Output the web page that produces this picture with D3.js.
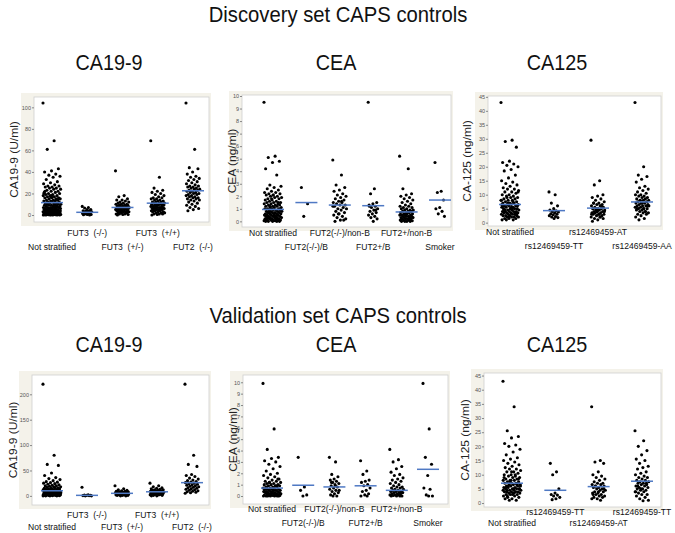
<!DOCTYPE html>
<html><head><meta charset="utf-8">
<script src="https://cdn.jsdelivr.net/npm/d3@7"></script>
<style>body{margin:0;background:#fff}svg{display:block}text{white-space:pre}</style></head>
<body><svg id="c" width="675" height="533"></svg>
<script>
// ---------------- DATA ----------------
const titles = ["Discovery set CAPS controls", "Validation set CAPS controls"];
const markers = ["CA19-9", "CEA", "CA125"];
const yLabels = ["CA19-9 (U/ml)", "CEA (ng/ml)", "CA-125 (ng/ml)"];

const catsCA199 = ["Not stratified", "FUT3  (-/-)", "FUT3  (+/-)", "FUT3  (+/+)", "FUT2  (-/-)"];
const catsCEA = ["Not stratified", "FUT2(-/-)/B", "FUT2(-/-)/non-B", "FUT2+/B", "FUT2+/non-B", "Smoker"];
const catsCA125Disc = ["Not stratified", "rs12469459-TT", "rs12469459-AT", "rs12469459-AA"];
const catsCA125Val = ["Not stratified", "rs12469459-TT", "rs12469459-AT", "rs12469459-TT"];

const ticksCA199Disc = [0, 20, 40, 60, 80, 100];
const ticksCA199Val = [0, 50, 100, 150, 200];
const ticksCEA = [0, 1, 2, 3, 4, 5, 6, 7, 8, 9, 10];
const ticksCA125 = [0, 5, 10, 15, 20, 25, 30, 35, 40, 45];

// Discovery CA19-9
const discCA199 = [
  [104,69,61,43,41,40,38,37,36,35,33,31,30,29,28,27,27,26,26,25,25,24,24,23,22,22,21,21,20,20,19,19,18,18,18,17,17,16,16,16,15,15,15,14,14,14,13,13,13,12,12,12,11,11,11,10,10,10,10,9,9,9,9,8,8,8,8,7,7,7,7,7,6,6,6,6,6,5,5,5,5,5,5,4,4,4,4,4,4,3,3,3,3,3,3,3,2,2,2,2,2,2,2,1,1,1,1,1,1,1,0.5,0.5,0.5,0.5,0.3,0.3,0.2,0.2,0.1,0.1,0,0,0,0,9,12,15,18,22,8,6,4,3,11,14,17,20,2,1,0.5,7,5],
  [8,7,6.5,5,5,4,4,3.5,3,3,2.5,2,2,1.5,1,1,0.5,0.5,0.3,0],
  [41,18,17,15,14,14,13,12,12,11,11,10,10,10,9,9,9,8,8,8,8,7,7,7,7,7,6,6,6,6,6,5,5,5,5,5,4,4,4,4,3,3,3,3,2,2,2,1,1,1,0.5,0.5,0],
  [69,35,25,23,22,21,20,19,18,17,16,16,15,15,14,14,13,13,12,12,12,11,11,11,10,10,10,10,9,9,9,8,8,8,8,7,7,7,7,6,6,6,6,5,5,5,5,4,4,4,3,3,3,2,2,2,1,1,1,0.5,0],
  [104,61,44,43,40,38,36,35,34,33,32,31,30,29,28,27,27,26,26,25,25,24,24,23,23,22,22,21,21,20,20,19,19,18,18,17,17,16,16,15,15,14,14,13,12,11,10,9,8,7,6,5,4]
];
const discCA199Means = [11.5, 2.5, 7, 11, 22.5];

// Discovery CEA
const discCEA = [
  [9.5,5.2,5.1,4.8,4.7,4.2,3.7,2.9,2.8,2.7,2.6,2.5,2.4,2.3,2.3,2.2,2.2,2.1,2.1,2.0,2.0,1.9,1.9,1.8,1.8,1.7,1.7,1.6,1.6,1.5,1.5,1.5,1.4,1.4,1.4,1.3,1.3,1.3,1.2,1.2,1.2,1.1,1.1,1.1,1.0,1.0,1.0,1.0,0.9,0.9,0.9,0.9,0.8,0.8,0.8,0.8,0.7,0.7,0.7,0.7,0.6,0.6,0.6,0.6,0.5,0.5,0.5,0.5,0.5,0.4,0.4,0.4,0.4,0.4,0.3,0.3,0.3,0.3,0.3,0.2,0.2,0.2,0.2,0.2,0.1,0.1,0.1,0.1,0.1,0.05,0.05,0,0,0,0,0,1.2,0.9,0.6,0.3,1.5,1.8,0.1,0.4,0.7,1.0,2.1,0.2],
  [2.7,1.4,0.4],
  [4.9,3.7,2.9,2.7,2.5,2.4,2.2,2.1,2.0,1.9,1.8,1.7,1.6,1.5,1.5,1.4,1.3,1.3,1.2,1.1,1.0,1.0,0.9,0.8,0.7,0.6,0.5,0.4,0.3,0.2,0.1,0.0,0.1,0.6,1.2,1.6],
  [9.5,2.6,2.2,1.5,1.4,1.3,1.2,1.1,1.0,0.9,0.8,0.7,0.6,0.5,0.4,0.3,0.2,0.0,1.2,0.9],
  [5.2,4.2,2.6,2.2,2.1,2.0,1.9,1.8,1.7,1.6,1.5,1.4,1.3,1.2,1.2,1.1,1.1,1.0,1.0,0.9,0.9,0.9,0.8,0.8,0.8,0.7,0.7,0.7,0.6,0.6,0.6,0.5,0.5,0.5,0.5,0.4,0.4,0.4,0.4,0.3,0.3,0.3,0.3,0.2,0.2,0.2,0.2,0.1,0.1,0.1,0.05,0,0,0,0],
  [4.7,2.4,2.3,1.7,1.1,1.0,0.8,0.6,0.4]
];
const discCEAMeans = [0.95, 1.5, 1.3, 1.25, 0.75, 1.7];

// Discovery CA125
const discCA125 = [
  [43,29.5,29,27,22,21.5,21,20.5,20,19,18.5,17,16,15,14.5,14,13.5,13,12.5,12,12,11.5,11,11,10.5,10,10,9.5,9.5,9,9,8.5,8.5,8,8,8,7.5,7.5,7,7,7,6.5,6.5,6.5,6,6,6,5.5,5.5,5.5,5,5,5,5,4.5,4.5,4.5,4.5,4,4,4,4,3.5,3.5,3.5,3.5,3,3,3,3,2.5,2.5,2.5,2.5,2,2,2,2,1.5,1.5,1.5,1,1,1,6,5,4,3,7,8,5,4,3,2.5,6,7,9,11,5.5,4.5,3.5,2,6.5,7.5],
  [11,10,7,6,5,4.5,4.2,4,3.8,3.5,3.2,3,2.8,2.5,2.2,2,1.8,1.5],
  [29.5,15,13.5,10,9.5,9,8.5,8,7.5,7,7,6.5,6.5,6,6,5.5,5.5,5,5,5,4.5,4.5,4.5,4,4,4,3.5,3.5,3.5,3,3,3,2.5,2.5,2,2,1.5,1.5,1,0.5,6,5,4,3,7,5.5,4,3,2],
  [43,20,17,16.5,15.5,14.5,13,12.5,12,11.5,11,10.5,10,10,9.5,9.5,9,9,8.5,8.5,8,8,8,7.5,7.5,7,7,7,6.5,6.5,6,6,6,5.5,5.5,5,5,5,4.5,4.5,4,4,3.5,3.5,3,3,2.5,2,1.5,1,6,7,5,4,8,6,5]
];
const discCA125Means = [6.5, 4.3, 5.2, 7.4];

// Validation CA19-9
const valCA199 = [
  [220,80,62,60,45,40,36,34,32,30,28,27,26,25,24,23,22,21,20,20,19,18,18,17,16,16,15,15,14,14,13,13,12,12,12,11,11,11,10,10,10,9,9,9,9,8,8,8,8,7,7,7,7,6,6,6,6,6,5,5,5,5,5,4,4,4,4,4,3,3,3,3,3,3,2,2,2,2,2,1,1,1,1,1,0.5,0.5,0,0,0,0,6,8,10,12,4,3,2,5,7,9],
  [17,2,1.5,1,1,0.5,0.5,0,0],
  [20,14,12,11,10,9,9,8,8,7,7,7,6,6,6,5,5,5,5,4,4,4,4,3,3,3,2,2,2,1,1,1,0,0],
  [25,20,18,16,15,14,13,12,12,11,11,10,10,9,9,9,8,8,8,7,7,7,6,6,6,5,5,5,4,4,4,3,3,3,2,2,1,1,0,0],
  [220,80,62,58,42,40,38,35,33,31,30,28,27,26,25,24,23,22,21,20,19,18,17,16,15,14,13,12,11,10,9,8,7,6,5]
];
const valCA199Means = [10, 1, 5, 8, 26];

// Validation CEA
const valCEA = [
  [9.9,5.9,4.1,3.4,3.3,3.1,3.0,2.8,2.6,2.4,2.2,2.0,1.9,1.8,1.7,1.6,1.5,1.4,1.3,1.3,1.2,1.2,1.1,1.1,1.0,1.0,1.0,0.9,0.9,0.9,0.8,0.8,0.8,0.7,0.7,0.7,0.6,0.6,0.6,0.6,0.5,0.5,0.5,0.5,0.4,0.4,0.4,0.4,0.3,0.3,0.3,0.3,0.3,0.2,0.2,0.2,0.2,0.2,0.1,0.1,0.1,0.1,0.1,0.05,0.05,0,0,0,0,0,0,0,0.3,0.6,0.9,1.2,0.2,0.5,0.8,1.5,0.1,0.4],
  [3.4,0.8,0.5,0.1,0.0],
  [3.4,3.0,1.9,1.7,1.5,1.4,1.3,1.2,1.1,1.0,0.9,0.8,0.7,0.6,0.5,0.4,0.3,0.2,0.1,0,0,0.5,0.9,1.2],
  [3.1,2.2,1.9,1.4,1.3,1.2,1.0,0.9,0.7,0.5,0.4,0.2,0.1,0,0],
  [4.1,3.2,3.0,2.6,2.4,2.1,1.9,1.8,1.6,1.5,1.4,1.3,1.2,1.1,1.0,0.9,0.8,0.8,0.7,0.7,0.6,0.6,0.5,0.5,0.4,0.4,0.4,0.3,0.3,0.3,0.2,0.2,0.2,0.1,0.1,0.1,0.05,0,0,0,0],
  [9.9,5.9,3.4,2.8,1.8,0.7,0.6,0.1,0,0]
];
const valCEAMeans = [0.7, 0.95, 0.8, 0.9, 0.5, 2.35];

// Validation CA125
const valCA125 = [
  [43,34,25.5,23.5,23,21,20.5,20,19,18,17,16,15.5,15,14.5,14,13.5,13,12.5,12,12,11.5,11,11,10.5,10,10,9.5,9.5,9,9,8.5,8.5,8,8,8,7.5,7.5,7,7,7,6.5,6.5,6.5,6,6,6,5.5,5.5,5.5,5,5,5,5,4.5,4.5,4.5,4.5,4,4,4,4,3.5,3.5,3.5,3,3,3,2.5,2.5,2,2,1.5,1.5,1,1,6,5,4,7,8,9,10,6,5,3,5.5,6.5,7.5,4.5,3.5,2.5,8.5,11],
  [14,11,10,5,3.5,3,2.8,2.5,2,1.5,1.2],
  [34,15,14.5,14,11,10,9.5,9,8.5,8,7.5,7,7,6.5,6.5,6,6,5.5,5.5,5,5,4.5,4.5,4,4,3.5,3.5,3,3,2.5,2.5,2,2,1.5,1.5,1,6,5,4,3],
  [25.5,22,20,18.5,17,15.5,15,14,13,12.5,12,11,10.5,10,9.5,9,9,8.5,8,8,7.5,7.5,7,7,6.5,6.5,6,6,5.5,5.5,5,5,4.5,4.5,4,4,3.5,3,3,2.5,2,1.5,1,0.8,6,7,5,4]
];
const valCA125Means = [7, 4.5, 5.8, 7.7];

// ---------------- LAYOUT ----------------
const layout = [
  {cats: catsCA199, data: discCA199, means: discCA199Means, ticks: ticksCA199Disc, yl: 0,
   box: [34, 209, 97, 222], dom: [-6.5, 109.6], xr: [52, 193], rows: [2,1,2,1,2], ry: [236, 250], ylx: 14},
  {cats: catsCEA, data: discCEA, means: discCEAMeans, ticks: ticksCEA, yl: 1,
   box: [242, 451, 95, 227], dom: [-0.45, 10.08], xr: [273, 440], rows: [1,2,1,2,1,2], ry: [236, 250], ylx: 232},
  {cats: catsCA125Disc, data: discCA125, means: discCA125Means, ticks: ticksCA125, yl: 2,
   box: [488, 661, 96, 226], dom: [-1.2, 45.3], xr: [510, 642], rows: [1,2,1,2], ry: [235, 249], ylx: 467},
  {cats: catsCA199, data: valCA199, means: valCA199Means, ticks: ticksCA199Val, yl: 0,
   box: [32, 209, 375, 505], dom: [-18, 238], xr: [52, 192], rows: [2,1,2,1,2], ry: [518, 530], ylx: 13},
  {cats: catsCEA, data: valCEA, means: valCEAMeans, ticks: ticksCEA, yl: 1,
   box: [243, 448, 375, 504], dom: [-0.7, 10.64], xr: [272, 428], rows: [1,2,1,2,1,2], ry: [512, 526], ylx: 233},
  {cats: catsCA125Val, data: valCA125, means: valCA125Means, ticks: ticksCA125, yl: 2,
   box: [484, 661, 373, 507], dom: [-1.4, 45.9], xr: [512, 642], rows: [2,1,2,1], ry: [515, 526], ylx: 465}
];

const svg = d3.select("#c");
const FONT = "Liberation Sans, Arial, sans-serif";
const SX = 0.9; // horizontal squeeze of the original image

function htext(g, x, y, str, size, anchor, color) {
  return g.append("text")
    .attr("transform", `translate(${x},${y}) scale(${SX},1)`)
    .attr("text-anchor", anchor || "middle")
    .attr("xml:space", "preserve")
    .attr("font-family", FONT).attr("font-size", size)
    .attr("fill", color || "#111").text(str);
}

// titles
htext(svg, 338, 22, titles[0], 22.5);
htext(svg, 338, 323, titles[1], 22.5);
const subX = [109, 336, 557];
markers.forEach((m, i) => {
  htext(svg, subX[i], 70, m, 22);
  htext(svg, subX[i], 352, m, 22);
});

layout.forEach(p => {
  const [x0, x1, y0, y1] = p.box;
  const g = svg.append("g");
  const y = d3.scaleLinear().domain(p.dom).range([y1, y0]);
  const x = d3.scalePoint().domain(d3.range(p.cats.length)).range(p.xr);

  // frame
  g.append("rect").attr("x", x0 - 13).attr("y", y0 - 4).attr("width", x1 - x0 + 15).attr("height", y1 - y0 + 8)
    .attr("fill", "#f4f2ea");
  g.append("rect").attr("x", x0).attr("y", y0).attr("width", x1 - x0).attr("height", y1 - y0)
    .attr("fill", "#fff").attr("stroke", "#cfcfcf").attr("stroke-width", 0.8);

  // y axis
  const ax = g.append("g").attr("transform", `translate(${x0},0)`)
    .call(d3.axisLeft(y).tickValues(p.ticks).tickSize(2).tickPadding(1).tickFormat(d3.format("d")));
  ax.select(".domain").remove();
  ax.selectAll(".tick line").attr("stroke", "#888");
  ax.selectAll(".tick text").attr("font-family", FONT).attr("font-size", 5.5).attr("fill", "#555");

  // y label
  g.append("text")
    .attr("transform", `translate(${p.ylx},${(y0 + y1) / 2}) rotate(-90) scale(1,${SX})`)
    .attr("text-anchor", "middle").attr("dy", "0.35em")
    .attr("font-family", FONT).attr("font-size", 12).attr("fill", "#222")
    .text(yLabels[p.yl]);

  // points (deterministic jitter)
  p.data.forEach((vals, ci) => {
    const n = vals.length;
    const w = n > 80 ? 9 : n > 30 ? 7 : 5;
    g.append("g").selectAll("circle").data(vals).join("circle")
      .attr("cx", (d, i) => x(ci) + (((i * 0.6180339887) % 1) - 0.5) * 2 * w)
      .attr("cy", d => y(d))
      .attr("r", 1.55).attr("fill", "#000");
  });

  // mean lines
  g.append("g").selectAll("line").data(p.means).join("line")
    .attr("x1", (d, i) => x(i) - 11).attr("x2", (d, i) => x(i) + 11)
    .attr("y1", d => y(d)).attr("y2", d => y(d))
    .attr("stroke", "#4f79c4").attr("stroke-width", 1.5);

  // category labels
  p.cats.forEach((c, i) => {
    htext(g, x(i), p.ry[p.rows[i] - 1], c, 9.5, "middle", "#111");
  });
});
</script>
</body></html>
